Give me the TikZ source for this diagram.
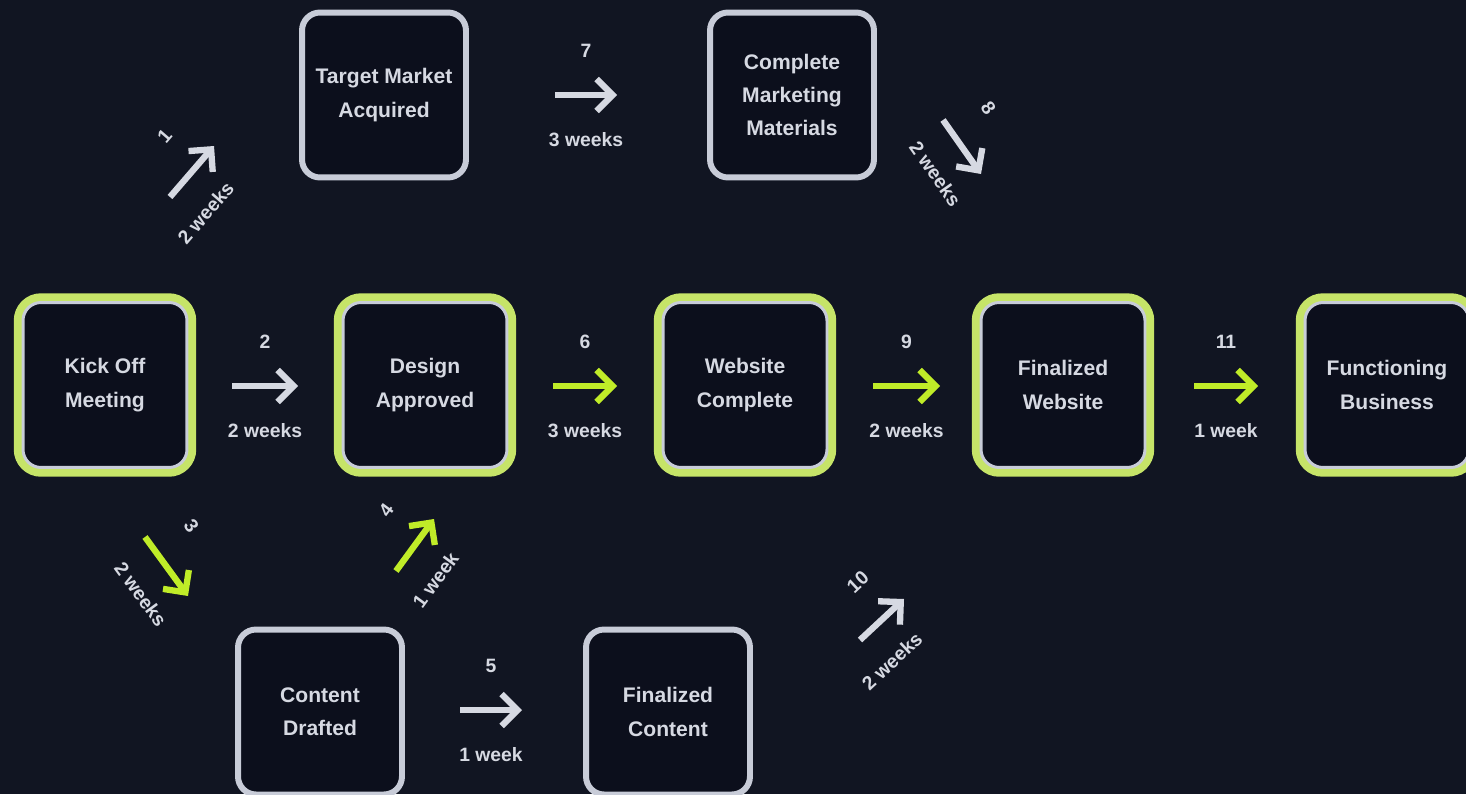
\documentclass[tikz,border=0pt]{standalone}
\usepackage{fontspec}
\setmainfont{Liberation Sans}
\usetikzlibrary{arrows.meta}

\definecolor{bgnavy}{RGB}{17,21,34}
\definecolor{boxfill}{RGB}{12,15,28}
\definecolor{boxgrey}{RGB}{200,204,216}
\definecolor{boxgreen}{RGB}{198,228,104}
\definecolor{arrowgreen}{RGB}{192,236,40}
\definecolor{labelgrey}{RGB}{214,217,226}

\tikzset{
    box/.style={draw=boxgrey, line width=3.4pt, fill=boxfill, rounded corners=0.36cm,
        minimum width=3.28cm, minimum height=3.3cm, align=center, text=labelgrey,
        font=\bfseries\fontsize{12}{19}\selectfont},
    keybox/.style={box, line width=1.7pt, preaction={draw=boxgreen, line width=10.5pt}},
    flow/.style={draw=labelgrey, line width=3.6pt, -{Straight Barb[length=3.2mm,width=6.4mm]}},
    keyflow/.style={flow, draw=arrowgreen},
    num/.style={text=labelgrey, font=\bfseries\fontsize{11}{13}\selectfont},
    dur/.style={num}
}

\begin{document}
\begin{tikzpicture}[x=0.02cm, y=-0.02cm]
    \fill[bgnavy] (0,0) rectangle (1466,794);
    \useasboundingbox (0,0) rectangle (1466,794);

    % main row
    \node[keybox] (kickoff) at (105,385) {Kick Off\\Meeting};
    \node[keybox] (design) at (425,385) {Design\\Approved};
    \node[keybox] (website) at (745,385) {Website\\Complete};
    \node[keybox] (finalweb) at (1063,385) {Finalized\\Website};
    \node[keybox] (business) at (1387,385) {Functioning\\Business};

    % top row
    \node[box] (target) at (384,95) {Target Market\\Acquired};
    \node[box] (marketing) at (792,95) {Complete\\Marketing\\Materials};

    % bottom row
    \node[box] (content) at (320,712) {Content\\Drafted};
    \node[box] (finalcontent) at (668,712) {Finalized\\Content};

    % arrow ends
    \coordinate (a1s) at (170,197);  \coordinate (a1e) at (214,146);
    \coordinate (a2s) at (232,386);  \coordinate (a2e) at (298,386);
    \coordinate (a3s) at (145,537);  \coordinate (a3e) at (188,596);
    \coordinate (a4s) at (396,571);  \coordinate (a4e) at (434,519);
    \coordinate (a5s) at (460,710);  \coordinate (a5e) at (522,710);
    \coordinate (a6s) at (553,386);  \coordinate (a6e) at (617,386);
    \coordinate (a7s) at (555,95);   \coordinate (a7e) at (617,95);
    \coordinate (a8s) at (943,120);  \coordinate (a8e) at (981,174);
    \coordinate (a9s) at (873,386);  \coordinate (a9e) at (940,386);
    \coordinate (a10s) at (860,640); \coordinate (a10e) at (904,599);
    \coordinate (a11s) at (1194,386); \coordinate (a11e) at (1258,386);

    \draw[flow] (a1s) -- node[num, sloped, above=16pt, pos=0.63]{1} node[dur, sloped, below=12pt, pos=0.17]{2 weeks} (a1e);
    \draw[flow] (a2s) -- node[num, above=16pt]{2} node[dur, below=16pt]{2 weeks} (a2e);
    \draw[keyflow] (a3s) -- node[num, sloped, above=16pt, pos=0.25]{3} node[dur, sloped, below=12pt, pos=0.6]{2 weeks} (a3e);
    \draw[keyflow] (a4s) -- node[num, sloped, above=16pt, pos=0.67]{4} node[dur, sloped, below=12pt, pos=0.25]{1 week} (a4e);
    \draw[flow] (a5s) -- node[num, above=16pt]{5} node[dur, below=16pt]{1 week} (a5e);
    \draw[keyflow] (a6s) -- node[num, above=16pt]{6} node[dur, below=16pt]{3 weeks} (a6e);
    \draw[flow] (a7s) -- node[num, above=16pt]{7} node[dur, below=16pt]{3 weeks} (a7e);
    \draw[flow] (a8s) -- node[num, sloped, above=16pt, pos=0.25]{8} node[dur, sloped, below=12pt, pos=0.6]{2 weeks} (a8e);
    \draw[keyflow] (a9s) -- node[num, above=16pt]{9} node[dur, below=16pt]{2 weeks} (a9e);
    \draw[flow] (a10s) -- node[num, sloped, above=16pt, pos=0.63]{10} node[dur, sloped, below=12pt, pos=0.15]{2 weeks} (a10e);
    \draw[keyflow] (a11s) -- node[num, above=16pt]{11} node[dur, below=16pt]{1 week} (a11e);
\end{tikzpicture}
\end{document}
